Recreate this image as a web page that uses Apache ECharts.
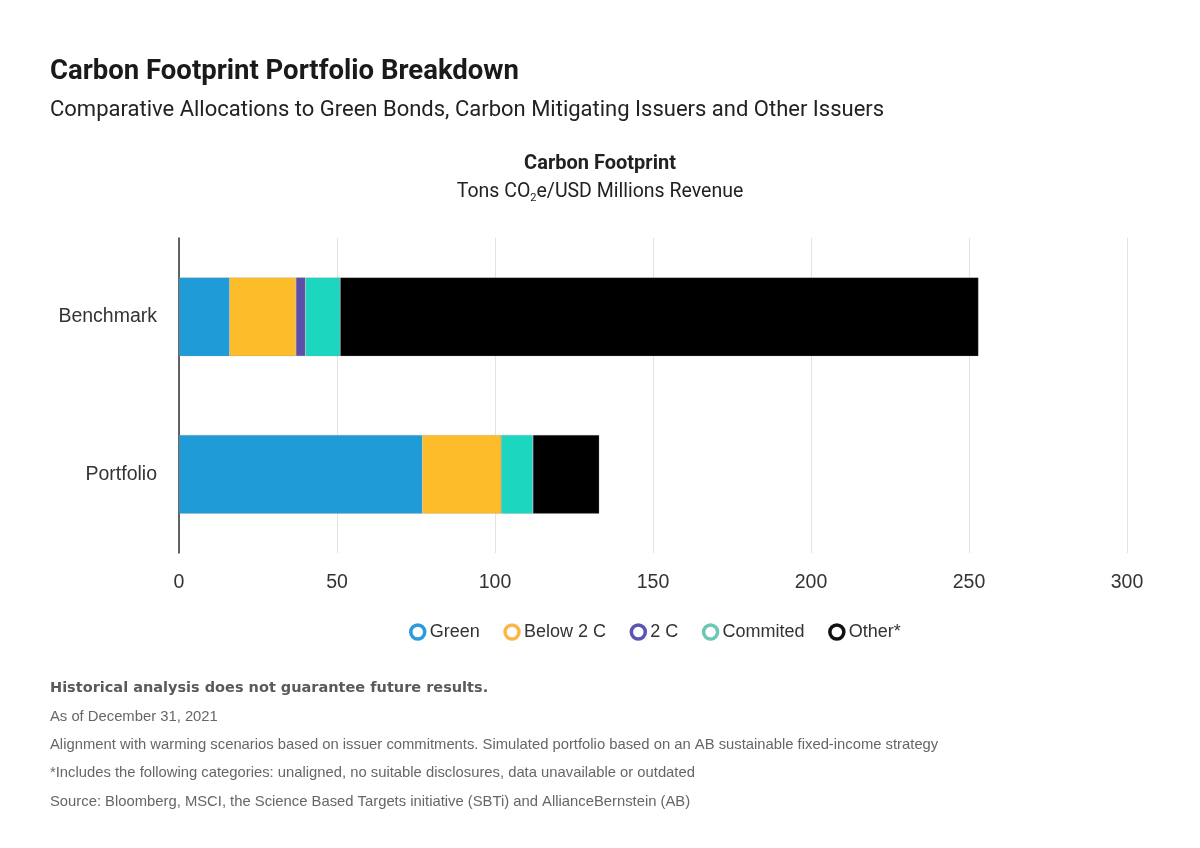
<!DOCTYPE html>
<html><head><meta charset="utf-8">
<script src="https://cdn.jsdelivr.net/npm/echarts@6/dist/echarts.min.js"></script>
<style>html,body{margin:0;padding:0;background:#fff;}#c{width:1200px;height:848px;}</style>
</head><body><div id="c"></div>
<script>
const categories = ['Portfolio', 'Benchmark'];
const seriesNames = ['Green', 'Below 2 C', '2 C', 'Commited', 'Other*'];
const green = [77, 16];
const below2C = [25, 21];
const twoC = [0, 3];
const committed = [10, 11];
const other = [21, 202];
const xTicks = [0, 50, 100, 150, 200, 250, 300];
const colors = ['#1f9bd7', '#fdbd2a', '#5a4ea6', '#1dd6c0', '#000000'];
const legendColors = ['#2a9bdc', '#fdb547', '#5a55b0', '#6cc7b5', '#111111'];
const values = [green, below2C, twoC, committed, other];

const note = (text, top, bold) => ({
  text, left: 50, top, padding: 0,
  textStyle: {fontFamily: bold ? 'DejaVu Sans' : 'Liberation Sans', fontSize: bold ? 14.5 : 14.8,
    fontWeight: bold ? 'bold' : 'normal', color: bold ? '#5a5a5a' : '#666'}
});

const chart = echarts.init(document.getElementById('c'));
chart.setOption({
  backgroundColor: '#fff',
  animation: false,
  title: [
    {text: 'Carbon Footprint Portfolio Breakdown', left: 50, top: 58, padding: 0,
     textStyle: {fontFamily: 'Roboto', fontSize: 27.5, fontWeight: 'bold', color: '#1a1a1a'}},
    {text: 'Comparative Allocations to Green Bonds, Carbon Mitigating Issuers and Other Issuers', left: 50, top: 99, padding: 0,
     textStyle: {fontFamily: 'Roboto', fontSize: 22, fontWeight: 'normal', color: '#222'}},
    {text: 'Carbon Footprint', left: 'center', top: 154, padding: 0,
     textStyle: {fontFamily: 'Roboto', fontSize: 20, fontWeight: 'bold', color: '#222'}},
    {text: '{a|Tons CO}{s|2}{a|e/USD Millions Revenue}', left: 'center', top: 181, padding: 0,
     textStyle: {fontWeight: 'normal', rich: {
       a: {fontFamily: 'Roboto', fontSize: 19.5, fontWeight: 'normal', color: '#222'},
       s: {fontFamily: 'Roboto', fontSize: 11, fontWeight: 'normal', color: '#222', padding: [12, 0, 0, 0]}
     }}},
    note('Historical analysis does not guarantee future results.', 681, true),
    note('As of December 31, 2021', 709),
    note('Alignment with warming scenarios based on issuer commitments. Simulated portfolio based on an AB sustainable fixed-income strategy', 737),
    note('*Includes the following categories: unaligned, no suitable disclosures, data unavailable or outdated', 765),
    note('Source: Bloomberg, MSCI, the Science Based Targets initiative (SBTi) and AllianceBernstein (AB)', 794.5)
  ],
  legend: {
    top: 623, left: 409, itemGap: 23.5, itemWidth: 14, itemHeight: 14, padding: 0,
    icon: 'circle',
    textStyle: {fontFamily: 'Liberation Sans', fontSize: 18, color: '#333'},
    data: seriesNames.map((n, i) => ({name: n, itemStyle: {color: '#fff', borderColor: legendColors[i], borderWidth: 3.5}}))
  },
  grid: {left: 179, right: 73, top: 238, bottom: 295, containLabel: false},
  xAxis: {
    type: 'value', min: 0, max: 300, interval: 50,
    axisLine: {show: false}, axisTick: {show: false},
    splitLine: {show: true, lineStyle: {color: '#e3e3e3', width: 1}},
    axisLabel: {fontFamily: 'Liberation Sans', fontSize: 19.5, color: '#333', margin: 20,
      formatter: v => xTicks.includes(v) ? String(v) : ''}
  },
  yAxis: {
    type: 'category', data: categories,
    axisLine: {show: true, lineStyle: {color: '#333', width: 1.5}},
    axisTick: {show: false},
    axisLabel: {fontFamily: 'Liberation Sans', fontSize: 19.5, color: '#333', margin: 22}
  },
  series: seriesNames.map((n, i) => ({
    name: n, type: 'bar', stack: 'total', barWidth: '50%',
    data: values[i],
    itemStyle: {color: colors[i], borderColor: 'rgba(150,150,150,0.5)', borderWidth: 0.5}
  }))
});
</script></body></html>
